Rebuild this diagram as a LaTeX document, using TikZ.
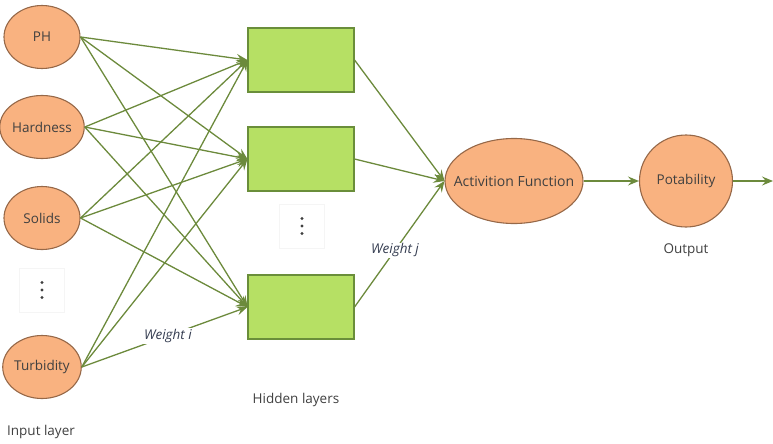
\documentclass[tikz,border=0pt]{standalone}
\usepackage{fontspec}
\setmainfont{Open Sans}
\usepackage{tikz}
\usetikzlibrary{arrows.meta}
\usetikzlibrary{shapes.geometric}
\usetikzlibrary{positioning}
\definecolor{peach}{RGB}{249,178,128}
\definecolor{brownline}{RGB}{150,104,72}
\definecolor{leaf}{RGB}{182,224,100}
\definecolor{leafline}{RGB}{106,142,58}
\definecolor{linkgreen}{RGB}{108,138,60}
\definecolor{textgray}{RGB}{64,64,64}
\definecolor{slate}{RGB}{52,60,80}
\tikzstyle{neuron} = [ellipse, draw=brownline, fill=peach, line width=1.1pt,
    minimum width=76pt, minimum height=63pt, inner sep=0pt, text=textgray,
    font=\fontsize{13.5}{16}\selectfont]
\tikzstyle{hidden} = [rectangle, draw=leafline, fill=leaf, line width=1.1pt,
    minimum width=106pt, minimum height=64pt]
\tikzstyle{link} = [draw=linkgreen, line width=1.3pt,
    -{Stealth[length=11pt, width=9pt, inset=4pt]}]
\tikzstyle{vdots} = [draw=black!4, minimum width=45pt, minimum height=44pt]
\tikzstyle{dotmark} = [fill=textgray]
\tikzstyle{caption} = [text=textgray, font=\fontsize{13.5}{16}\selectfont]
\tikzstyle{weight} = [fill=white, inner sep=1pt, text=slate,
    font=\fontsize{13.5}{16}\selectfont\itshape]

\begin{document}
\begin{tikzpicture}[x=1pt, y=-1pt]
  \useasboundingbox (0,0) rectangle (773,444);
  % Input layer
  \node [neuron] (ph) at (42,37) {PH};
  \node [neuron] (hard) at (42,127) {Hardness};
  \node [neuron] (sol) at (42,218) {Solids};
  \node [vdots] (indots) at (42,290) {};
  \node [neuron] (turb) at (42,367) {Turbidity};
  \node [caption] (inlabel) at (41,432) {Input layer};

  % Hidden layers
  \node [hidden] (h1) at (301,60) {};
  \node [hidden] (h2) at (301,159) {};
  \node [vdots] (hdots) at (302,226) {};
  \node [hidden] (h3) at (301,307) {};
  \node [caption] (hlabel) at (296,400) {Hidden layers};

  \foreach \d in {-7.5,0,7.5} {
    \fill [dotmark] ([yshift=\d pt]indots.center) circle (1.6pt);
    \fill [dotmark] ([yshift=\d pt]hdots.center) circle (1.6pt);
  }

  % Activation and output
  \node [neuron, minimum width=138pt, minimum height=85pt,
         label={[caption, font=\fontsize{14}{16}\selectfont]center:Activition Function}] (act) at (514,181) {};
  \node [neuron, minimum width=93pt, minimum height=92pt] (pot) at (686,181) {Potability};
  \node [caption] (outlabel) at (686,250) {Output};
  \coordinate (end) at (773,181);

  % Connections
  \foreach \i in {ph,hard,sol,turb}
    \foreach \j in {h1,h2,h3}
      \path [link] (\i.east) -- (\j.west);
  \foreach \j in {h1,h2,h3}
    \path [link] (\j.east) -- (act.west);
  \path [link] (act.east) -- (pot.west);
  \path [link] (pot.east) -- (end);

  % Weight labels
  \path (turb.east) -- node [weight, pos=0.52] {Weight i} (h3.west);
  \path (h3.east) -- node [weight, pos=0.45] {Weight j} (act.west);
\end{tikzpicture}
\end{document}
